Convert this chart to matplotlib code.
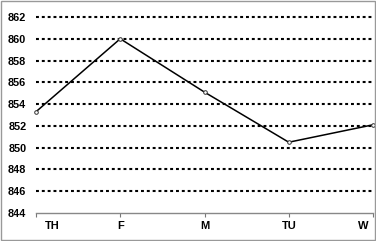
import numpy as np
import matplotlib.pyplot as plt
import matplotlib.transforms as mtransforms
from matplotlib.patches import Rectangle

plt.rcParams['font.family'] = ['Liberation Sans', 'DejaVu Sans']

days = ["TH", "F", "M", "TU", "W"]
values = [853.3, 860.0, 855.1, 850.5, 852.1]
yticks = [844, 846, 848, 850, 852, 854, 856, 858, 860, 862]

fig = plt.figure(figsize=(3.76, 2.41), dpi=100)
ax = fig.add_axes([36/376, 28/241, 337/376, 196/241])

x = np.arange(len(days))
for yv in yticks[1:]:
    ax.axhline(yv, color="black", lw=1.5, ls=(0, (1.4, 1.4)), zorder=1, clip_on=False)
ax.plot(x, values, color="black", lw=1.1, marker="o", ms=2.6,
        mfc="white", mec="#333333", mew=0.7, zorder=3, clip_on=False)

ax.set_xlim(0, len(days) - 1)
ax.set_ylim(844, 862)
ax.set_yticks(yticks)
ax.set_yticklabels([str(v) for v in yticks], fontsize=7.8, fontweight="bold")
ax.set_xticks(x)
ax.set_xticklabels(days, fontsize=8, fontweight="bold")
ax.tick_params(axis="y", length=0, pad=7)
ax.tick_params(axis="x", length=3, color="#777777", pad=3)

for s in ["top", "right", "left"]:
    ax.spines[s].set_visible(False)
ax.spines["bottom"].set_color("#888888")
ax.spines["bottom"].set_linewidth(1)

labels = ax.get_xticklabels()
labels[0].set_transform(labels[0].get_transform() +
                        mtransforms.ScaledTranslation(16/100, 0, fig.dpi_scale_trans))
labels[-1].set_transform(labels[-1].get_transform() +
                         mtransforms.ScaledTranslation(-10/100, 0, fig.dpi_scale_trans))

fig.patches.append(Rectangle((0.002, 0.003), 0.995, 0.993, transform=fig.transFigure,
                             fill=False, edgecolor="#999999", lw=1))

fig.savefig("out.png", dpi=100)
